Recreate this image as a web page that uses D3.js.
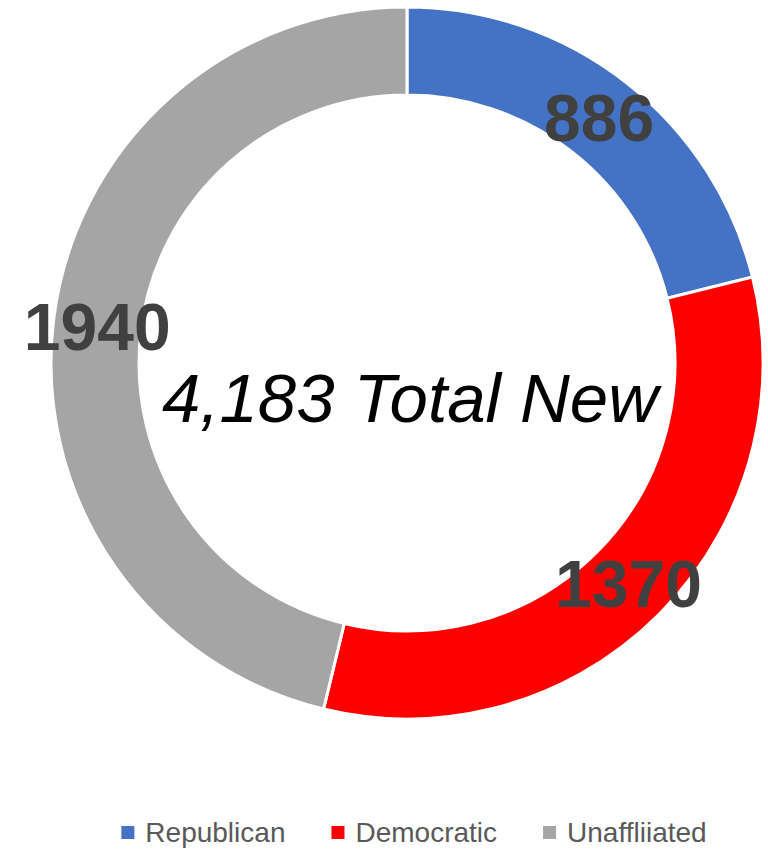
<!DOCTYPE html>
<html>
<head>
<meta charset="utf-8">
<script src="https://cdn.jsdelivr.net/npm/d3@7"></script>
<style>
  body { margin: 0; background: #fff; }
</style>
</head>
<body>
<div id="chart"></div>
<script>
const categories = ["Republican", "Democratic", "Unaffliiated"];
const values = [886, 1370, 1940];
const colors = ["#4472C4", "#FF0000", "#A5A5A5"];
const centerLabel = "4,183 Total New";

const width = 768, height = 850;
const cx = 407, cy = 363;
const outerR = 356, innerR = 268;

const svg = d3.select("#chart").append("svg")
    .attr("width", width)
    .attr("height", height);

const data = categories.map((c, i) => ({ name: c, value: values[i], color: colors[i] }));

const pie = d3.pie()
    .sort(null)
    .value(d => d.value);

const arc = d3.arc()
    .innerRadius(innerR)
    .outerRadius(outerR);

const g = svg.append("g")
    .attr("transform", "translate(" + cx + "," + cy + ")");

const arcs = pie(data);

g.selectAll(".slice")
    .data(arcs)
    .enter().append("path")
    .attr("class", "slice")
    .attr("d", arc)
    .style("fill", d => d.data.color)
    .style("stroke", "white")
    .style("stroke-width", "3px");

// value labels at the centroid of each ring segment
g.selectAll(".value-label")
    .data(arcs)
    .enter().append("text")
    .attr("class", "value-label")
    .attr("x", d => arc.centroid(d)[0])
    .attr("y", d => arc.centroid(d)[1])
    .attr("dy", "0.36em")
    .attr("text-anchor", "middle")
    .style("font-family", "'Liberation Sans', Arial, sans-serif")
    .style("font-weight", "bold")
    .style("font-size", "66px")
    .style("fill", "#404040")
    .text(d => d.data.value);

// centre text
g.append("text")
    .attr("x", 3)
    .attr("y", 59)
    .attr("text-anchor", "middle")
    .style("font-family", "'Liberation Sans', Arial, sans-serif")
    .style("font-style", "italic")
    .style("font-size", "69px")
    .style("fill", "#000")
    .text(centerLabel);

// legend, laid out left to right and centred
const legend = svg.append("g").attr("class", "legend");
const legendY = 832;
const items = legend.selectAll(".item")
    .data(data)
    .enter().append("g")
    .attr("class", "item");

items.append("rect")
    .attr("width", 13)
    .attr("height", 13)
    .attr("y", legendY - 6)
    .style("fill", d => d.color);

items.append("text")
    .attr("x", 24)
    .attr("y", legendY)
    .attr("dy", "0.35em")
    .style("font-family", "'Liberation Sans', Arial, sans-serif")
    .style("font-size", "28px")
    .style("fill", "#595959")
    .text(d => d.name);

let offset = 0;
const gap = 46;
const widths = [];
items.each(function() { widths.push(this.getBBox().width); });
const total = d3.sum(widths) + gap * (widths.length - 1);
offset = 414 - total / 2;
items.attr("transform", (d, i) => {
    const x = offset;
    offset += widths[i] + gap;
    return "translate(" + x + ",0)";
});
</script>
</body>
</html>
